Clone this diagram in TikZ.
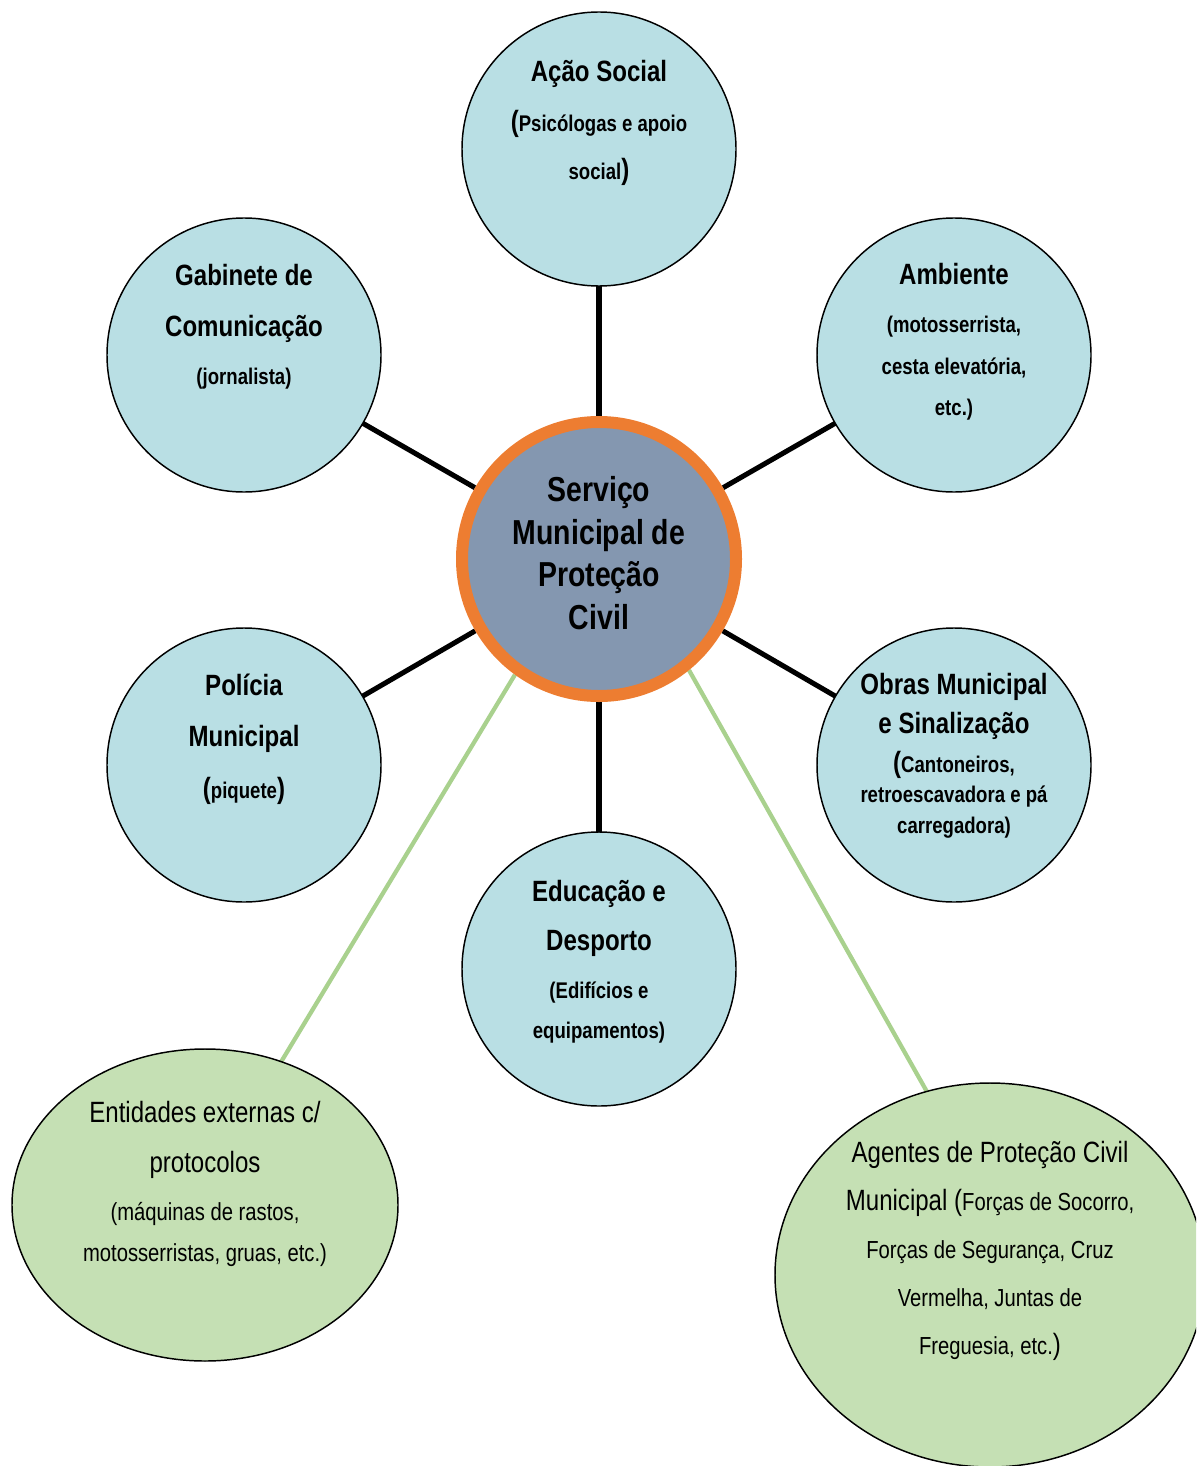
\documentclass[tikz,border=0pt]{standalone}
\usepackage{fontspec}
\setmainfont[FakeStretch=0.82]{Liberation Sans}
\usetikzlibrary{positioning,backgrounds,shapes.geometric}
\definecolor{cUnit}{HTML}{B9DFE4}
\definecolor{cCore}{HTML}{8497B0}
\definecolor{cRing}{HTML}{ED7D31}
\definecolor{cExt}{HTML}{C5E0B4}
\definecolor{cLink}{HTML}{A9D18E}
% text sizes
\newcommand{\fTtl}{\fontsize{22}{36}\selectfont\bfseries}
\newcommand{\fSub}{\fontsize{17}{36}\selectfont\bfseries}
\newcommand{\fCore}{\fontsize{26}{32}\selectfont\bfseries}
\newcommand{\fExt}{\fontsize{22}{36}\selectfont}
\newcommand{\fExs}{\fontsize{18.5}{36}\selectfont}
\tikzset{
  unit/.style={circle,draw=black,line width=1.1pt,fill=cUnit,minimum size=205.5pt,inner sep=0pt,outer sep=0pt},
  core/.style={circle,draw=cRing,line width=9pt,fill=cCore,minimum size=205.5pt,inner sep=0pt},
  ext/.style={ellipse,draw=black,line width=1.1pt,fill=cExt,inner sep=0pt,outer sep=0pt},
  txt/.style={align=center,inner sep=0pt,font=\fTtl},
  link/.style={line width=3.8pt,draw=black},
  glink/.style={line width=3.2pt,draw=cLink}}

\begin{document}
\begin{tikzpicture}[x=0.75pt,y=-0.75pt]
\useasboundingbox (0,0) rectangle (1196,1466);
\clip (0,0) rectangle (1196,1466);
% circles
\node[core] (svc) at (599,559) {};
\node[unit] (acao) at (599,149) {};
\node[unit] (gab) at (244,355) {};
\node[unit] (amb) at (954,355) {};
\node[unit] (pol) at (244,765) {};
\node[unit] (obras) at (954,765) {};
\node[unit] (edu) at (599,969) {};
\node[ext, minimum width=289.5pt, minimum height=234pt] (ent) at (205,1205) {};
\node[ext, minimum width=322.5pt, minimum height=288pt] (agt) at (990,1275) {};
% texts
\node[txt, font=\fCore] (svc-t) at (599,553) {Serviço\\ Municipal de\\ Proteção\\ Civil};
\node[txt] (acao-t) at (599,123) {Ação Social\\[2pt] ({\fSub Psicólogas e apoio}\\ {\fSub social})};
\node[txt] (gab-t) at (244,327) {Gabinete de\\[2pt] Comunicação\\ {\fSub (jornalista)}};
\node[txt] (amb-t) at (954,342) {Ambiente\\ {\fSub (motosserrista,}\\[-5pt] {\fSub cesta elevatória,}\\[-5pt] {\fSub etc.)}};
\node[txt] (pol-t) at (244,739) {Polícia\\[2pt] Municipal\\[3pt] ({\fSub piquete})};
\node[txt] (obras-t) at (954,756) {Obras Municipal\\[-7pt] e Sinalização\\[-7pt] ({\fSub Cantoneiros,}\\[-13pt] {\fSub retroescavadora e pá}\\[-13pt] {\fSub carregadora)}};
\node[txt] (edu-t) at (599,962) {Educação e\\[1pt] Desporto\\ {\fSub (Edifícios e}\\[-6pt] {\fSub equipamentos)}};
\node[txt, font=\fExt] (ent-t) at (205,1184) {Entidades externas c/\\[1pt] protocolos\\ {\fExs (máquinas de rastos,}\\[-5pt] {\fExs motosserristas, gruas, etc.)}};
\node[txt, font=\fExt] (agt-t) at (990,1251) {Agentes de Proteção Civil\\ Municipal ({\fExs Forças de Socorro,}\\ {\fExs Forças de Segurança, Cruz}\\ {\fExs Vermelha, Juntas de}\\ {\fExs Freguesia, etc.})};
% connectors
\begin{scope}[on background layer]
\foreach \u in {acao,gab,amb,pol,obras,edu}
  \draw[link] (svc) -- (\u);
\draw[glink] (svc.234) -- (ent.62.6);
\draw[glink] (svc.309.3) -- (agt.109.5);
\end{scope}
\end{tikzpicture}
\end{document}
